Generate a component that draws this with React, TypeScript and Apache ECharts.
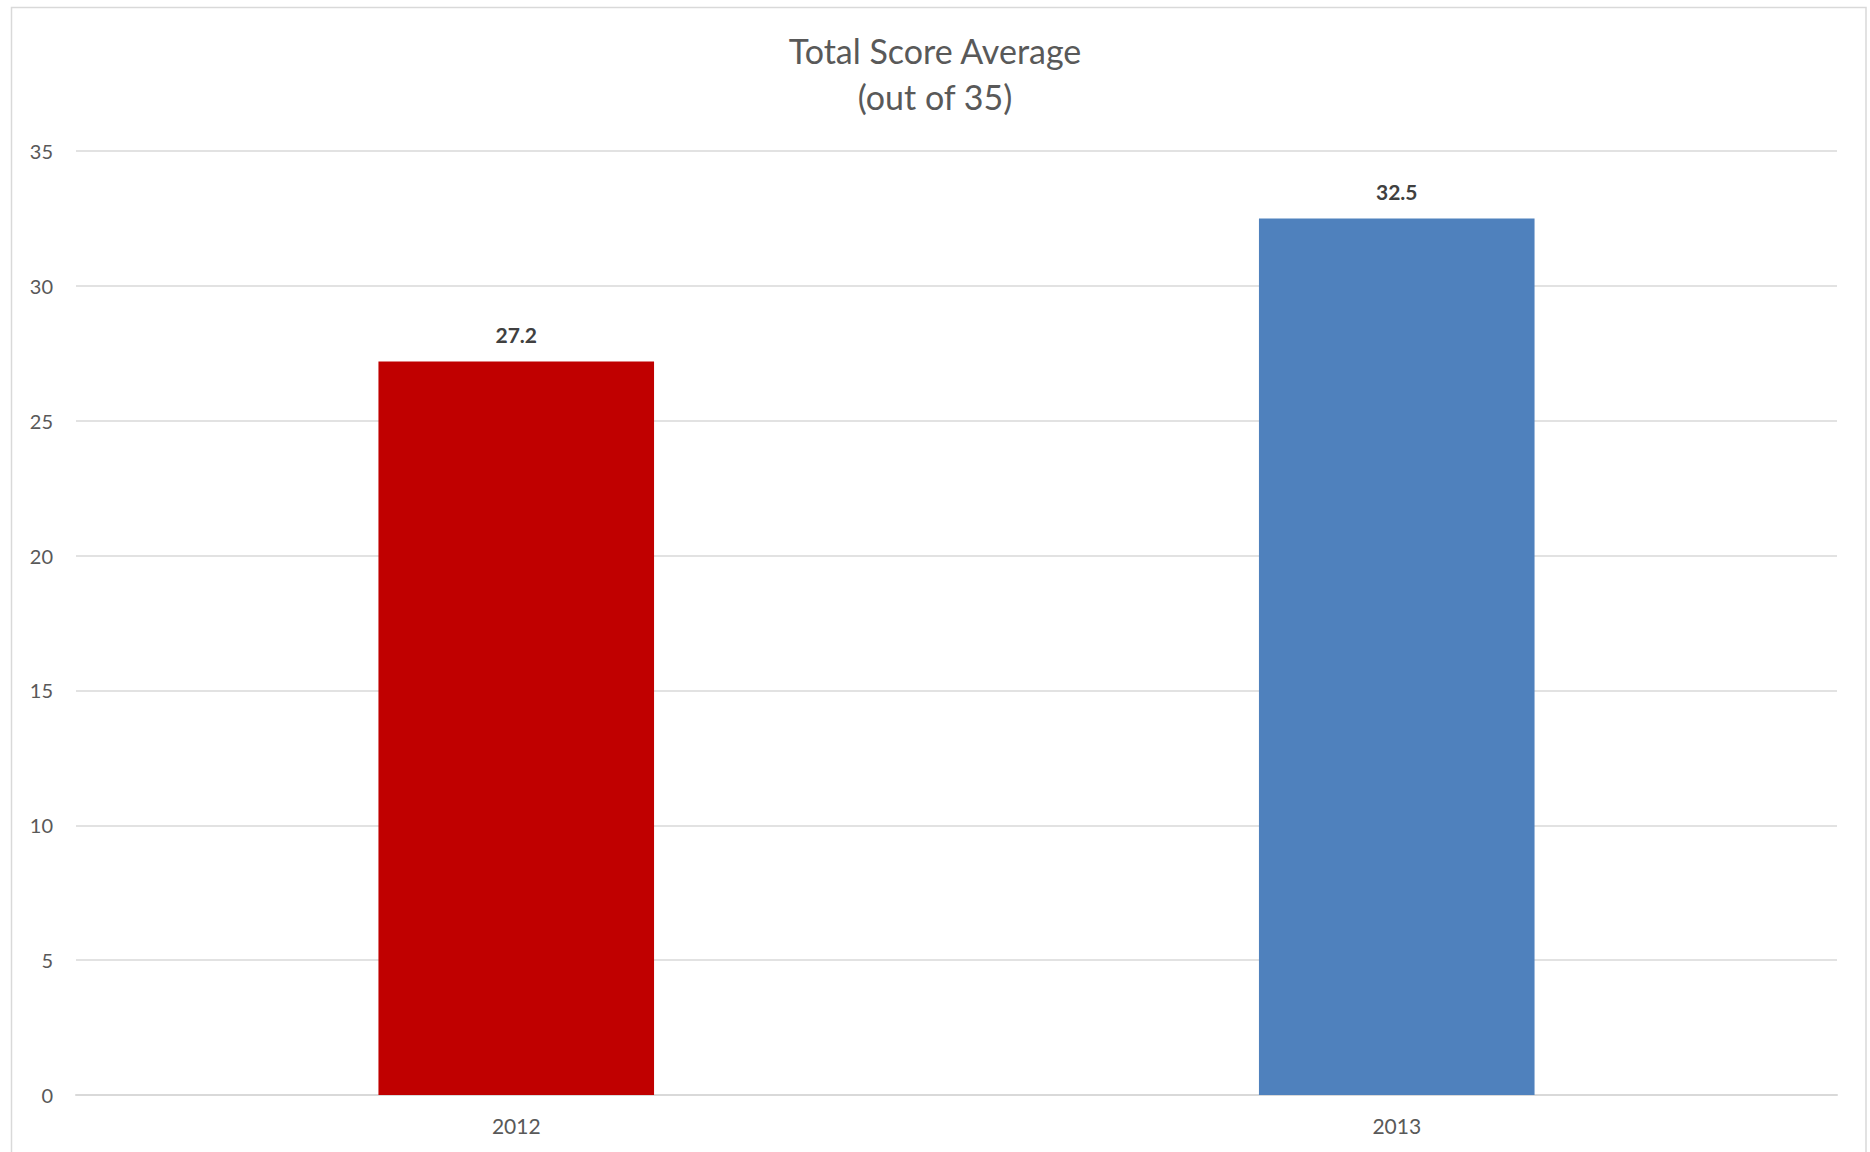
import React, { useEffect, useRef } from "react";
import * as echarts from "echarts";

const categories = ["2012", "2013"];
const scores = [27.2, 32.5];
const barColors = ["#C00000", "#4F81BD"];
const yTicks = { min: 0, max: 35, interval: 5 };

const FONT = "Lato, 'Noto Sans', sans-serif";

export default function App() {
  const ref = useRef<HTMLDivElement>(null);

  useEffect(() => {
    if (!ref.current) return;
    const chart = echarts.init(ref.current, undefined, { renderer: "svg" });
    chart.setOption({
      animation: false,
      backgroundColor: "#ffffff",
      title: {
        text: "Total Score Average\n(out of 35)",
        left: "center",
        top: 22,
        textStyle: {
          fontFamily: FONT,
          fontSize: 34,
          fontWeight: "normal",
          color: "#595959",
          lineHeight: 46,
        },
      },
      graphic: [
        {
          type: "rect",
          shape: { x: 11.5, y: 7.5, width: 1854.5, height: 1170 },
          style: { fill: "none", stroke: "#d9d9d9", lineWidth: 1.5 },
          silent: true,
        },
      ],
      grid: { left: 76, right: 33, top: 151, bottom: 57, containLabel: false },
      xAxis: {
        type: "category",
        data: categories,
        axisLine: { show: true, lineStyle: { color: "#d9d9d9", width: 2 } },
        axisTick: { show: false },
        axisLabel: {
          fontFamily: FONT,
          fontSize: 21,
          color: "#595959",
          margin: 20,
        },
      },
      yAxis: {
        type: "value",
        min: yTicks.min,
        max: yTicks.max,
        interval: yTicks.interval,
        axisLine: { show: false },
        axisTick: { show: false },
        splitLine: { lineStyle: { color: "#d9d9d9", width: 1.5 } },
        axisLabel: {
          fontFamily: FONT,
          fontSize: 20,
          color: "#595959",
          margin: 23,
        },
      },
      series: [
        {
          type: "bar",
          barWidth: "31.3%",
          data: scores.map((v, i) => ({
            value: v,
            itemStyle: { color: barColors[i] },
          })),
          label: {
            show: true,
            position: "top",
            distance: 16,
            fontFamily: FONT,
            fontSize: 21,
            fontWeight: "bold",
            color: "#404040",
            formatter: (p: any) => p.value.toFixed(1),
          },
        },
      ],
    });
    return () => chart.dispose();
  }, []);

  return (
    <div
      ref={ref}
      style={{ position: "fixed", left: 0, top: 0, width: 1870, height: 1152 }}
    />
  );
}
